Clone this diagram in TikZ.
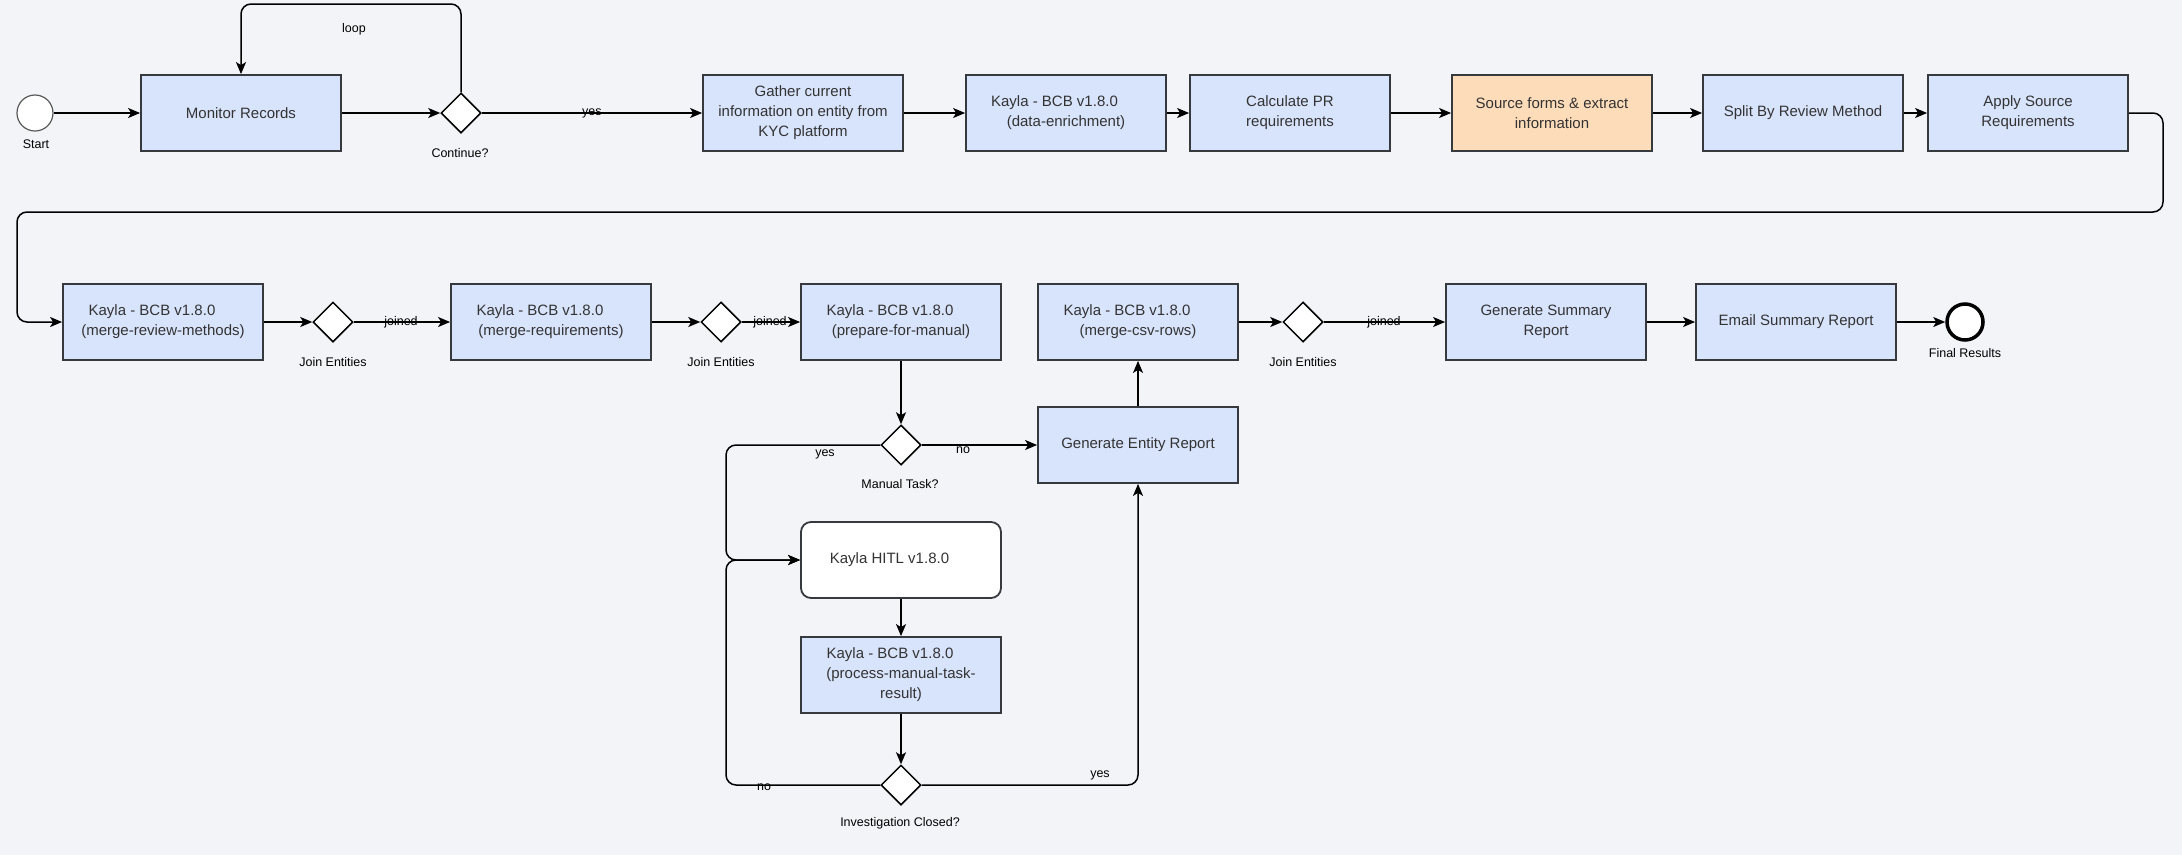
\documentclass[tikz,border=0pt]{standalone}
\usepackage{fontspec}
\setmainfont{Liberation Sans}
\usetikzlibrary{shapes.geometric,arrows.meta}
\definecolor{bgcol}{HTML}{F3F4F8}
\definecolor{bluefill}{HTML}{D8E4FC}
\definecolor{orangefill}{HTML}{FDDCBA}
\definecolor{boxline}{HTML}{36393D}
\definecolor{boxtext}{HTML}{333333}
\begin{document}
\begin{tikzpicture}[x=1pt,y=-1pt,
	every node/.style={font=\fontsize{15}{20}\selectfont, text=boxtext},
	task/.style={draw=boxline, line width=1.8pt, fill=bluefill, minimum width=200pt, minimum height=76pt, align=center, inner sep=0pt},
	decision/.style={diamond, draw=black, line width=1.5pt, fill=white, minimum width=40pt, minimum height=40pt, inner sep=0pt},
	lbl/.style={font=\fontsize{12.5}{15}\selectfont, text=black, inner sep=0pt},
	flow/.style={-{Stealth[length=12pt,width=10pt,inset=3pt]}, line width=1.5pt, rounded corners=10pt}]
	\fill[bgcol] (0,0) rectangle (2182,855);
	% top row
	\node[circle, draw=gray!70!black, line width=1.2pt, fill=white, minimum size=36pt, inner sep=0pt] (start) at (35,113) {};
	\node[lbl] (startlbl) at (36,144) {Start};
	\node[decision] (cont) at (461,113) {};
	\node[lbl] (contlbl) at (460,153) {Continue?};
	\foreach \nm/\x/\col/\txt in {monitor/241/bluefill/{Monitor Records},
		gather/803/bluefill/{Gather current\\information on entity from\\KYC platform},
		enrich/1066/bluefill/{Kayla - BCB v1.8.0\kern23pt\\(data-enrichment)},
		calc/1290/bluefill/{Calculate PR\\requirements},
		source/1552/orangefill/{Source forms \& extract\\information},
		split/1803/bluefill/{Split By Review Method},
		apply/2028/bluefill/{Apply Source\\Requirements}} {
		\node[task, fill=\col] (\nm) at (\x,113) {\txt};
	}
	% second row
	\foreach \nm/\x/\txt in {mrm/163/{merge-review-methods}, mreq/551/{merge-requirements},
		prep/901/{prepare-for-manual}, mcsv/1138/{merge-csv-rows}} {
		\node[task] (\nm) at (\x,322) {Kayla - BCB v1.8.0\kern22pt\\(\txt)};
	}
	\foreach \nm/\x in {j1/333, j2/721, j3/1303} {
		\node[decision] (\nm) at (\x,322) {};
		\node[lbl] (\nm lbl) at (\x,362) {Join Entities};
	}
	\node[task] (gsum) at (1546,322) {Generate Summary\\Report};
	\node[task] (email) at (1796,322) {Email Summary Report};
	\node[circle, draw=black, line width=3.5pt, fill=white, minimum size=36pt, inner sep=0pt] (final) at (1965,322) {};
	\node[lbl] (finallbl) at (1965,353) {Final Results};
	% manual branch
	\node[decision] (manual) at (901,445) {};
	\node[lbl] (manuallbl) at (900,484) {Manual Task?};
	\node[task] (gent) at (1138,445) {Generate Entity Report};
	\node[task, fill=white, rounded corners=10pt] (hitl) at (901,560) {Kayla HITL v1.8.0\kern23pt};
	\node[task] (proc) at (901,675) {Kayla - BCB v1.8.0\kern22pt\\(process-manual-task-\\result)};
	\node[decision] (inv) at (901,785) {};
	\node[lbl] (invlbl) at (900,823) {Investigation Closed?};
	% connectors
	\foreach \a/\b in {start/monitor, monitor/cont, gather/enrich, enrich/calc, calc/source, source/split, split/apply,
		mrm/j1, j1/mreq, mreq/j2, j2/prep, mcsv/j3, j3/gsum, gsum/email, email/final, manual/gent} {
		\draw[flow] (\a.east) -- (\b.west);
	}
	\draw[flow] (cont.east) -- node[lbl] (yes1) {yes} (gather.west);
	\draw[flow] (cont.north) -- (461,4) -- (241,4) -- (monitor.north);
	\node[lbl] (looplbl) at (354,29) {loop};
	\draw[flow] (apply.east) -- (2163,113) -- (2163,212) -- (17,212) -- (17,322) -- (mrm.west);
	\draw[flow] (prep.south) -- (manual.north);
	\draw[flow] (manual.west) -- (726,445) -- (726,560) -- (hitl.west);
	\draw[flow] (inv.west) -- (726,785) -- (726,560) -- (hitl.west);
	\draw[flow] (inv.east) -- (1138,785) -- (gent.south);
	\draw[flow] (gent.north) -- (mcsv.south);
	\draw[flow] (hitl.south) -- (proc.north);
	\draw[flow] (proc.south) -- (inv.north);
	\node[lbl] (joined1) at (401,322) {joined};
	\node[lbl] (joined2) at (770,322) {joined};
	\node[lbl] (joined3) at (1384,322) {joined};
	\node[lbl] (yes2) at (825,454) {yes};
	\node[lbl] (no1) at (963,450) {no};
	\node[lbl] (no2) at (764,787) {no};
	\node[lbl] (yes3) at (1100,775) {yes};
\end{tikzpicture}
\end{document}
